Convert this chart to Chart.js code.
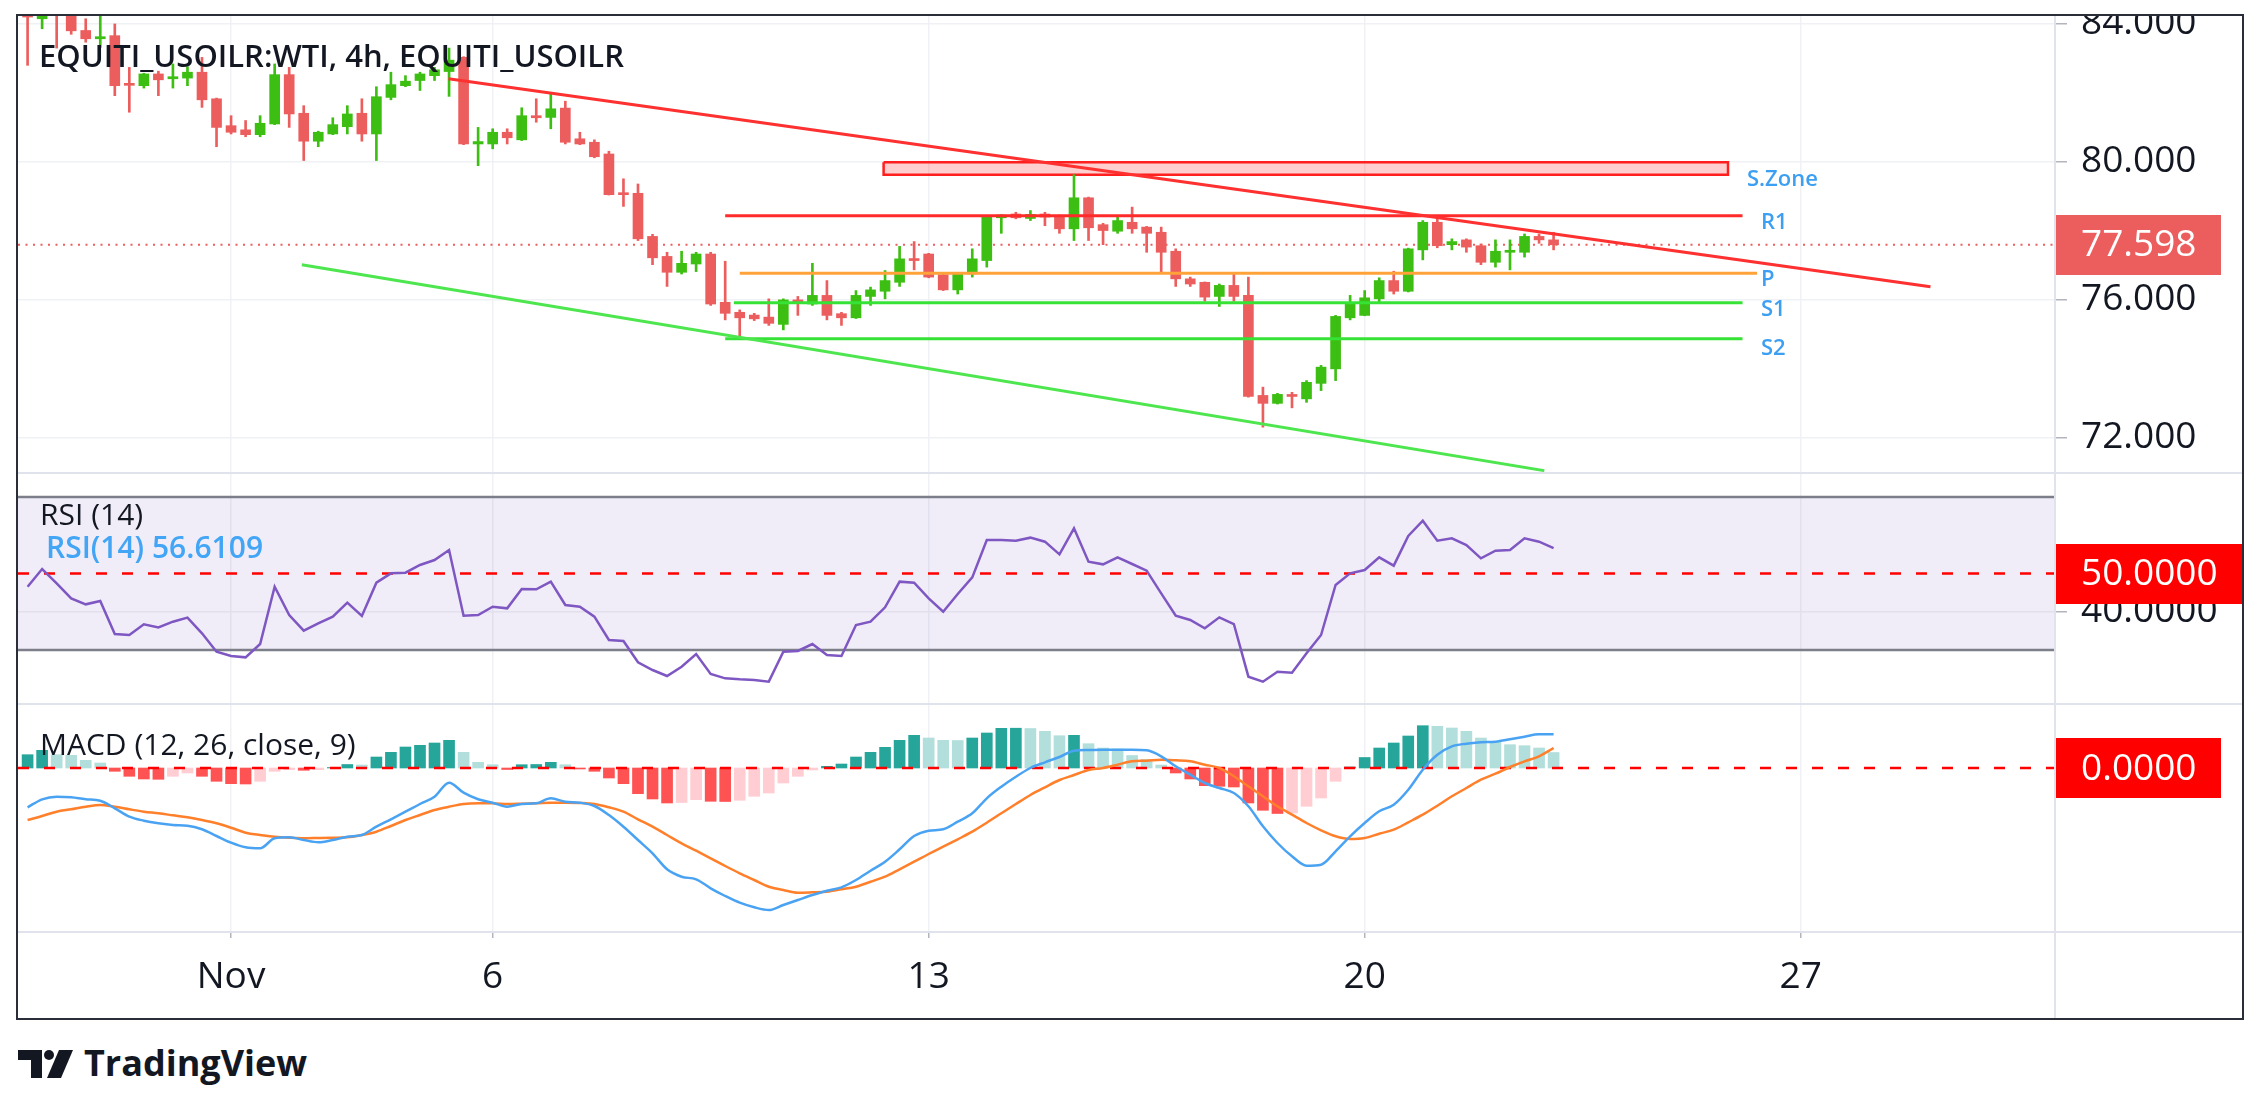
<!DOCTYPE html>
<html>
<head>
<meta charset="utf-8">
<title>EQUITI_USOILR:WTI, 4h</title>
<script src="https://cdn.jsdelivr.net/npm/chart.js@4.4.1/dist/chart.umd.min.js"></script>
<style>
  html, body { margin: 0; padding: 0; background: #fff; }
  body { width: 2262px; height: 1114px; position: relative; overflow: hidden;
         font-family: 'Open Sans', sans-serif; color: #131722; }
  #frame { position: absolute; left: 16px; top: 14px; width: 2224px; height: 1002px;
           border: 2px solid #2a2e39; }
  #frame canvas { position: absolute; left: 0; }
  .sep { position: absolute; background: #e0e3eb; }
  .lbl { position: absolute; white-space: nowrap; line-height: 1; z-index: 5; }
  .lvl { font-size: 22px; font-weight: 600; color: #3d9ff2; }
</style>
</head>
<body>

<div id="frame">
  <canvas id="priceChart" width="2224" height="456" style="top:0"></canvas>
  <canvas id="rsiChart"   width="2224" height="229" style="top:458px"></canvas>
  <canvas id="macdChart"  width="2224" height="313" style="top:689px"></canvas>
  <div class="sep" style="left:0;top:456px;width:2224px;height:2px"></div>
  <div class="sep" style="left:0;top:687px;width:2224px;height:2px"></div>
  <div class="sep" style="left:0;top:915px;width:2224px;height:2px"></div>
  <div class="sep" style="left:2036px;top:0;width:2px;height:1002px"></div>
</div>

<div class="lbl" style="left:39px;top:40px;font-size:31px;font-weight:600">EQUITI_USOILR:WTI, 4h, EQUITI_USOILR</div>
<div class="lbl" style="left:40px;top:499px;font-size:30px">RSI (14)</div>
<div class="lbl" style="left:46px;top:532px;font-size:30px;font-weight:600;color:#42a5f5">RSI(14) 56.6109</div>
<div class="lbl" style="left:40px;top:729px;font-size:30px">MACD (12, 26, close, 9)</div>

<div class="lbl lvl" style="left:1747px;top:166px">S.Zone</div>
<div class="lbl lvl" style="left:1761px;top:209px">R1</div>
<div class="lbl lvl" style="left:1761px;top:266px">P</div>
<div class="lbl lvl" style="left:1761px;top:296px">S1</div>
<div class="lbl lvl" style="left:1761px;top:335px">S2</div>

<svg class="lbl" style="left:18px;top:1050px" width="56" height="28" viewBox="0 0 56 28">
  <path d="M0 0 H24 V28 H13 V10 H0 Z" fill="#131722"/>
  <circle cx="31" cy="5" r="5" fill="#131722"/>
  <path d="M41 0 H55 L43 28 H29 Z" fill="#131722"/>
</svg>
<div class="lbl" style="left:84px;top:1045px;font-size:36px;font-weight:700">TradingView</div>

<script>
/* ─────────────────────────────────────────────
   WTI 4h chart: candles + pivot levels, RSI(14), MACD(12,26,9)
   x positions are in 4h bars counted from Nov 1 00:00
───────────────────────────────────────────── */

/* ── Time axis ── */
const BAR0        = -14;                 // first visible candle
const X_MIN       = -14.66;
const X_MAX       = 125.5;
const DATE_TICKS  = [0, 18, 48, 78, 108];
const DATE_LABELS = ['Nov', '6', '13', '20', '27'];

/* ── Candles ── */
const OPEN = [
  84.5, 84.15, 84.4, 84.5, 83.81, 83.57, 83.66, 82.27, 82.21, 82.55, 82.41, 82.43, 82.6, 81.83,
  81.05, 80.93, 80.79, 81.1, 82.53, 81.41, 80.6, 80.81, 81.02, 81.41,
  80.81, 81.87, 82.21, 82.36, 82.5, 82.62, 83.03, 80.52, 80.52, 80.86,
  80.64, 81.34, 81.29, 81.56, 80.67, 80.57, 80.23, 79.1, 79.09, 77.84,
  77.26, 76.8, 77.04, 77.33, 75.93, 75.64, 75.56, 75.5, 75.29, 76.0,
  75.88, 76.13, 75.6, 75.48, 76.1, 76.25, 76.51, 77.19, 77.33, 76.73,
  76.29, 76.75, 77.14, 78.38, 78.49, 78.36, 78.49, 78.44, 78.06, 78.96,
  78.18, 77.99, 78.25, 78.11, 77.96, 77.41, 76.61, 76.51, 76.1, 76.42,
  76.13, 73.23, 73.0, 73.25, 73.13, 73.58, 74.0, 75.48, 75.55, 76.03,
  76.56, 76.25, 77.45, 78.25, 77.6, 77.74, 77.57, 77.09, 77.38, 77.38,
  77.84, 77.74,
];
const HIGH = [
  84.6, 84.5, 84.6, 84.6, 84.15, 84.24, 84.0, 82.74, 82.57, 82.63, 82.84, 82.76, 83.03, 81.85,
  81.34, 81.2, 81.34, 82.84, 82.74, 81.63, 80.89, 81.28, 81.63, 81.83,
  82.18, 82.6, 82.5, 82.6, 82.74, 83.3, 83.05, 81.0, 80.96, 80.96,
  81.57, 81.83, 81.97, 81.76, 80.86, 80.64, 80.31, 79.51, 79.36, 77.9,
  77.38, 77.41, 77.38, 77.38, 77.12, 75.71, 75.61, 76.03, 76.03, 76.1,
  77.06, 76.56, 75.64, 76.27, 76.37, 76.85, 77.55, 77.69, 77.35, 76.75,
  76.77, 77.48, 78.44, 78.47, 78.54, 78.59, 78.54, 78.46, 79.63, 78.98,
  78.22, 78.42, 78.69, 78.13, 78.11, 77.48, 76.66, 76.52, 76.46, 76.77,
  76.66, 73.47, 73.29, 73.32, 73.66, 74.1, 75.55, 76.13, 76.27, 76.64,
  76.83, 77.5, 78.3, 78.44, 77.77, 77.77, 77.62, 77.74, 77.74, 77.91,
  77.91, 77.96,
];
const LOW = [
  82.8, 83.86, 83.3, 83.7, 83.47, 83.32, 81.92, 81.44, 82.14, 81.92, 82.14, 82.21, 81.58, 80.44,
  80.81, 80.73, 80.73, 81.08, 81.0, 80.04, 80.44, 80.79, 80.81, 80.6,
  80.04, 81.8, 82.18, 82.07, 82.36, 81.9, 80.5, 79.89, 80.38, 80.52,
  80.62, 81.15, 80.96, 80.52, 80.5, 80.12, 79.04, 78.71, 77.72, 77.02,
  76.39, 76.75, 76.82, 75.84, 75.42, 74.92, 75.4, 75.26, 75.13, 75.55,
  75.84, 75.42, 75.26, 75.46, 75.84, 76.03, 76.39, 76.87, 76.64, 76.27,
  76.17, 76.66, 76.95, 77.93, 78.35, 78.3, 78.15, 77.93, 77.72, 77.72,
  77.6, 77.93, 77.93, 77.38, 76.77, 76.39, 76.39, 75.96, 75.81, 75.96,
  73.18, 72.31, 72.98, 72.87, 73.03, 73.37, 73.66, 75.42, 75.54, 75.9,
  76.17, 76.23, 77.16, 77.51, 77.45, 77.38, 77.02, 76.95, 76.87, 77.24,
  77.64, 77.45,
];
const CLOSE = [
  84.2, 84.3, 84.3, 83.8, 83.57, 83.63, 82.21, 82.22, 82.55, 82.38, 82.47, 82.6, 81.8, 81.0,
  80.86, 80.79, 81.12, 82.53, 81.39, 80.6, 80.86, 81.08, 81.39, 80.81,
  81.89, 82.24, 82.34, 82.55, 82.67, 82.95, 80.52, 80.59, 80.86, 80.7,
  81.34, 81.28, 81.54, 80.57, 80.52, 80.15, 79.05, 79.05, 77.77, 77.22,
  76.8, 77.06, 77.33, 75.88, 75.61, 75.48, 75.45, 75.32, 76.0, 75.93,
  76.13, 75.55, 75.48, 76.13, 76.29, 76.56, 77.19, 77.14, 76.66, 76.29,
  76.75, 77.19, 78.42, 78.46, 78.38, 78.48, 78.4, 78.06, 78.96, 78.09,
  78.01, 78.3, 78.06, 77.93, 77.38, 76.61, 76.46, 76.08, 76.42, 76.1,
  73.2, 73.0, 73.26, 73.2, 73.61, 74.05, 75.52, 75.9, 76.06, 76.56,
  76.25, 77.48, 78.25, 77.57, 77.69, 77.53, 77.09, 77.41, 77.43, 77.84,
  77.74, 77.598,
];
const LAST_PRICE = 77.598;

/* ── Drawings on the price pane ── */
const PRICE_TICKS   = [72, 76, 80, 84];
const LEVEL_PRICES  = [78.44, 76.77, 75.92, 74.87];   // R1, P, S1, S2
const LEVEL_FROM    = [34.0, 35.0, 34.6, 34.0];
const LEVEL_TO      = [104.0, 105.0, 104.0, 104.0];
const RESIST_X      = [14.96, 116.93];
const RESIST_Y      = [82.41, 76.38];
const SUPPORT_X     = [4.87, 90.36];
const SUPPORT_Y     = [77.02, 71.05];
const SZONE_X       = [44.9, 103.0];
const SZONE_Y       = [79.63, 79.99];

/* ── RSI(14) ── */
const RSI = [
  46.56, 51.17, 47.43, 43.52, 41.95, 42.82, 34.2, 33.94, 36.73, 35.94, 37.42, 38.47, 34.38, 29.59,
  28.46, 28.11, 31.59, 46.56, 39.16, 35.07, 36.99, 38.73, 42.38, 38.9,
  47.61, 50.04, 50.22, 52.22, 53.52, 56.14, 38.99, 39.16, 41.34, 40.9,
  45.95, 45.86, 47.87, 41.78, 41.34, 38.73, 32.64, 32.38, 26.81, 24.8,
  23.24, 25.67, 28.98, 23.76, 22.63, 22.37, 22.2, 21.76, 29.59, 29.77,
  31.59, 28.72, 28.46, 36.55, 37.42, 41.17, 47.87, 47.61, 43.52, 40.03,
  44.65, 49.0, 58.75, 58.75, 58.57, 59.36, 58.31, 55.0, 61.79, 53.09,
  52.39, 54.22, 52.48, 50.74, 44.82, 38.99, 37.86, 35.68, 38.55, 36.81,
  23.06, 21.76, 24.37, 24.11, 29.16, 33.94, 47.0, 50.04, 50.91, 54.22,
  52.05, 59.79, 63.79, 58.57, 59.18, 57.44, 53.96, 55.96, 56.14, 59.18,
  58.31, 56.61,
];
const RSI_TICKS = [40];
const RSI_BAND  = [30, 70];
const RSI_MID   = 50;

/* ── MACD(12, 26, close, 9) ── */
const MACD = [
  -0.393, -0.313, -0.287, -0.293, -0.313, -0.327, -0.403, -0.487, -0.527, -0.553, -0.57, -0.577, -0.613, -0.68,
  -0.747, -0.793, -0.803, -0.703, -0.693, -0.72, -0.743, -0.72, -0.687, -0.67,
  -0.587, -0.513, -0.437, -0.36, -0.287, -0.147, -0.247, -0.313, -0.347, -0.387,
  -0.36, -0.353, -0.303, -0.337, -0.347, -0.38, -0.47, -0.587, -0.72, -0.853,
  -1.013, -1.087, -1.113, -1.203, -1.28, -1.347, -1.393, -1.42, -1.37, -1.32,
  -1.27, -1.227, -1.193, -1.12, -1.027, -0.937, -0.813, -0.68, -0.627, -0.613,
  -0.537, -0.453, -0.303, -0.187, -0.087, 0.0, 0.057, 0.11, 0.173, 0.18,
  0.183, 0.183, 0.183, 0.177, 0.117, 0.017, -0.067, -0.15, -0.2, -0.25,
  -0.383, -0.583, -0.75, -0.883, -0.977, -0.967, -0.833, -0.683, -0.55, -0.433,
  -0.367, -0.217, -0.017, 0.133, 0.217, 0.243, 0.257, 0.263, 0.287, 0.313,
  0.337, 0.337,
];
const SIGNAL = [
  -0.52, -0.48, -0.437, -0.413, -0.387, -0.37, -0.387, -0.413, -0.437, -0.453, -0.473, -0.493, -0.52, -0.553,
  -0.597, -0.647, -0.67, -0.687, -0.697, -0.703, -0.7, -0.697, -0.693, -0.67,
  -0.637, -0.58, -0.52, -0.47, -0.42, -0.387, -0.36, -0.353, -0.353, -0.36,
  -0.357, -0.353, -0.347, -0.347, -0.35, -0.36, -0.393, -0.437, -0.513, -0.587,
  -0.67, -0.753, -0.827, -0.903, -0.98, -1.053, -1.12, -1.187, -1.22, -1.247,
  -1.243, -1.237, -1.213, -1.187, -1.137, -1.087, -1.013, -0.937, -0.86, -0.787,
  -0.713, -0.637, -0.547, -0.453, -0.36, -0.27, -0.193, -0.12, -0.07, -0.02,
  0.0, 0.033, 0.067, 0.073, 0.083, 0.077, 0.067, 0.033, 0.0, -0.083,
  -0.183, -0.283, -0.383, -0.467, -0.55, -0.623, -0.683, -0.71, -0.7, -0.657,
  -0.617, -0.543, -0.467, -0.377, -0.283, -0.2, -0.117, -0.057, 0.01, 0.067,
  0.117, 0.2,
];
const HIST = [
  0.133, 0.177, 0.133, 0.127, 0.077, 0.05, -0.033, -0.083, -0.11, -0.113, -0.083, -0.05, -0.083, -0.133,
  -0.157, -0.16, -0.133, -0.033, -0.017, -0.023, -0.017, 0.005, 0.035, 0.03,
  0.11, 0.157, 0.21, 0.227, 0.25, 0.277, 0.157, 0.057, 0.033, -0.015,
  0.033, 0.035, 0.057, 0.033, -0.01, -0.033, -0.1, -0.157, -0.257, -0.31,
  -0.35, -0.345, -0.317, -0.333, -0.335, -0.323, -0.283, -0.25, -0.15, -0.083,
  -0.02, 0.017, 0.04, 0.11, 0.157, 0.207, 0.277, 0.327, 0.3, 0.277,
  0.275, 0.3, 0.35, 0.397, 0.398, 0.395, 0.367, 0.323, 0.327, 0.243,
  0.2, 0.19, 0.125, 0.085, 0.03, -0.05, -0.11, -0.177, -0.183, -0.19,
  -0.35, -0.423, -0.455, -0.45, -0.383, -0.3, -0.133, 0.01, 0.105, 0.2,
  0.25, 0.32, 0.423, 0.417, 0.4, 0.367, 0.3, 0.267, 0.233, 0.223,
  0.2, 0.155,
];

/* ── Style ── */
const UP      = '#3cbf12';
const DOWN    = '#ec5e5e';
const GRID    = '#f0f1f4';
const TEXT    = '#131722';
const AXIS_W  = 187;
const FONT    = { family: "'Open Sans', sans-serif", size: 37 };

Chart.defaults.animation = false;
Chart.defaults.events = [];
Chart.defaults.font.family = FONT.family;
Chart.defaults.plugins.legend.display = false;
Chart.defaults.plugins.tooltip.enabled = false;

/* ── Value box on the price axis (last price / hline labels) ── */
const valueBox = {
  id: 'valueBox',
  afterDraw(chart, args, opts) {
    const { ctx, chartArea } = chart;
    const y = chart.scales.y;
    (opts.items || []).forEach(it => {
      const py = y.getPixelForValue(it.value);
      ctx.save();
      ctx.fillStyle = it.bg;
      ctx.fillRect(chartArea.right, Math.round(py - 30), it.width, 60);
      ctx.fillStyle = '#fff';
      ctx.font = `${FONT.size}px ${FONT.family}`;
      ctx.textBaseline = 'middle';
      ctx.textAlign = 'left';
      ctx.fillText(it.text, chartArea.right + 26, py + 1);
      ctx.restore();
    });
  },
};

/* ── Shared scales ── */
function xScale(showLabels) {
  return {
    type: 'linear', min: X_MIN, max: X_MAX, offset: false,
    afterBuildTicks: s => { s.ticks = DATE_TICKS.map(v => ({ value: v })); },
    afterFit: s => { s.height = showLabels ? 87 : 0; s.paddingLeft = 0; s.paddingRight = 0; },
    grid: { color: GRID, lineWidth: 1.5, offset: false, drawTicks: showLabels, tickLength: 7, tickColor: '#b2b5be' },
    border: { display: false },
    ticks: {
      display: showLabels, autoSkip: false, maxRotation: 0, padding: 17,
      color: TEXT, font: FONT,
      callback: (v, i) => DATE_LABELS[i],
    },
  };
}

function yScale(min, max, tickList, fmt) {
  return {
    position: 'right', min, max,
    afterBuildTicks: s => { s.ticks = tickList.map(v => ({ value: v })); },
    afterFit: s => { s.width = AXIS_W; s.paddingTop = 0; s.paddingBottom = 0; },
    grid: { color: GRID, lineWidth: 1.5, tickLength: 12, tickColor: '#b2b5be' },
    border: { display: false },
    ticks: { padding: 14, color: TEXT, font: FONT, crossAlign: 'near', callback: fmt },
  };
}

function segment(x, y, color, width, extra) {
  return Object.assign({
    type: 'line',
    data: [{ x: x[0], y: y[0] }, { x: x[1], y: y[1] }],
    borderColor: color, borderWidth: width,
    pointRadius: 0, fill: false, tension: 0,
  }, extra || {});
}

const xs = OPEN.map((_, k) => BAR0 + k);

/* ── Price pane ── */
const levelColors = ['#ff2a2a', '#ffa23a', '#36e236', '#36e236'];
const levelSets = LEVEL_PRICES.map((p, k) =>
  segment([LEVEL_FROM[k], LEVEL_TO[k]], [p, p], levelColors[k], 3, { order: 3 }));

new Chart(document.getElementById('priceChart'), {
  type: 'bar',
  data: {
    datasets: [
      {
        type: 'line',
        data: [
          { x: SZONE_X[0], y: SZONE_Y[1] }, { x: SZONE_X[1], y: SZONE_Y[1] },
          { x: SZONE_X[1], y: SZONE_Y[0] }, { x: SZONE_X[0], y: SZONE_Y[0] },
          { x: SZONE_X[0], y: SZONE_Y[1] },
        ],
        borderColor: '#ff1f1f', borderWidth: 2.5,
        backgroundColor: 'rgba(255,30,30,0.22)', fill: 'shape',
        pointRadius: 0, tension: 0, order: 6,
      },
      ...levelSets,
      segment([X_MIN, X_MAX], [LAST_PRICE, LAST_PRICE], DOWN, 2, { borderDash: [2, 5.5], order: 5 }),
      segment(RESIST_X, RESIST_Y, '#ff3030', 3, { order: 1 }),
      segment(SUPPORT_X, SUPPORT_Y, '#4ee64e', 3, { order: 1 }),
      {
        type: 'bar',
        data: xs.map((x, k) => ({ x, y: [LOW[k], HIGH[k]] })),
        backgroundColor: CLOSE.map((c, k) => c >= OPEN[k] ? UP : DOWN),
        barThickness: 2, grouped: false, borderWidth: 0, order: 4,
      },
      {
        type: 'bar',
        data: xs.map((x, k) => ({ x, y: [OPEN[k], CLOSE[k]] })),
        backgroundColor: CLOSE.map((c, k) => c >= OPEN[k] ? UP : DOWN),
        barThickness: 10, grouped: false, borderWidth: 0, minBarLength: 2, order: 4,
      },
    ],
  },
  options: {
    responsive: false,
    layout: { padding: 0 },
    scales: {
      x: xScale(false),
      y: yScale(71.01, 84.23, PRICE_TICKS, v => v.toFixed(3)),
    },
    plugins: { valueBox: { items: [{ value: LAST_PRICE, text: LAST_PRICE.toFixed(3), bg: DOWN, width: 166 }] } },
  },
  plugins: [valueBox],
});

/* ── RSI pane ── */
new Chart(document.getElementById('rsiChart'), {
  type: 'line',
  data: {
    datasets: [
      segment([X_MIN, X_MAX], [RSI_BAND[1], RSI_BAND[1]], '#7c7f89', 2.5, { order: 4 }),
      segment([X_MIN, X_MAX], [RSI_BAND[0], RSI_BAND[0]], '#7c7f89', 2.5,
        { fill: '-1', backgroundColor: 'rgba(126,87,194,0.11)', order: 4 }),
      segment([X_MIN, X_MAX], [RSI_MID, RSI_MID], '#ff0000', 2.5, { borderDash: [11, 15], order: 3 }),
      {
        data: xs.map((x, k) => ({ x, y: RSI[k] })),
        borderColor: '#7e57c2', borderWidth: 2.5,
        pointRadius: 0, fill: false, tension: 0, order: 1,
      },
    ],
  },
  options: {
    responsive: false,
    layout: { padding: 0 },
    scales: {
      x: xScale(false),
      y: yScale(16.19, 75.98, RSI_TICKS, v => v.toFixed(4)),
    },
    plugins: { valueBox: { items: [{ value: RSI_MID, text: RSI_MID.toFixed(4), bg: '#ff0000', width: AXIS_W }] } },
  },
  plugins: [valueBox],
});

/* ── MACD pane ── */
const histColors = HIST.map((h, k) => {
  const rising = k === 0 || h >= HIST[k - 1];
  if (h >= 0) return rising ? '#26a69a' : '#b2dfdb';
  return rising ? '#ffcdd2' : '#ff5252';
});

new Chart(document.getElementById('macdChart'), {
  type: 'bar',
  data: {
    datasets: [
      {
        type: 'bar',
        data: xs.map((x, k) => ({ x, y: HIST[k] })),
        backgroundColor: histColors,
        barThickness: 11, grouped: false, borderWidth: 0, order: 5,
      },
      segment([X_MIN, X_MAX], [0, 0], '#ff0000', 2.5, { borderDash: [11, 15], order: 3 }),
      {
        type: 'line',
        data: xs.map((x, k) => ({ x, y: SIGNAL[k] })),
        borderColor: '#ff7f2a', borderWidth: 2.5,
        pointRadius: 0, fill: false, cubicInterpolationMode: 'monotone', order: 2,
      },
      {
        type: 'line',
        data: xs.map((x, k) => ({ x, y: MACD[k] })),
        borderColor: '#4aa3f2', borderWidth: 2.5,
        pointRadius: 0, fill: false, cubicInterpolationMode: 'monotone', order: 1,
      },
    ],
  },
  options: {
    responsive: false,
    layout: { padding: 0 },
    scales: {
      x: xScale(true),
      y: yScale(-1.63, 0.63, [], v => v.toFixed(4)),
    },
    plugins: { valueBox: { items: [{ value: 0, text: (0).toFixed(4), bg: '#ff0000', width: 166 }] } },
  },
  plugins: [valueBox],
});
</script>
</body>
</html>
